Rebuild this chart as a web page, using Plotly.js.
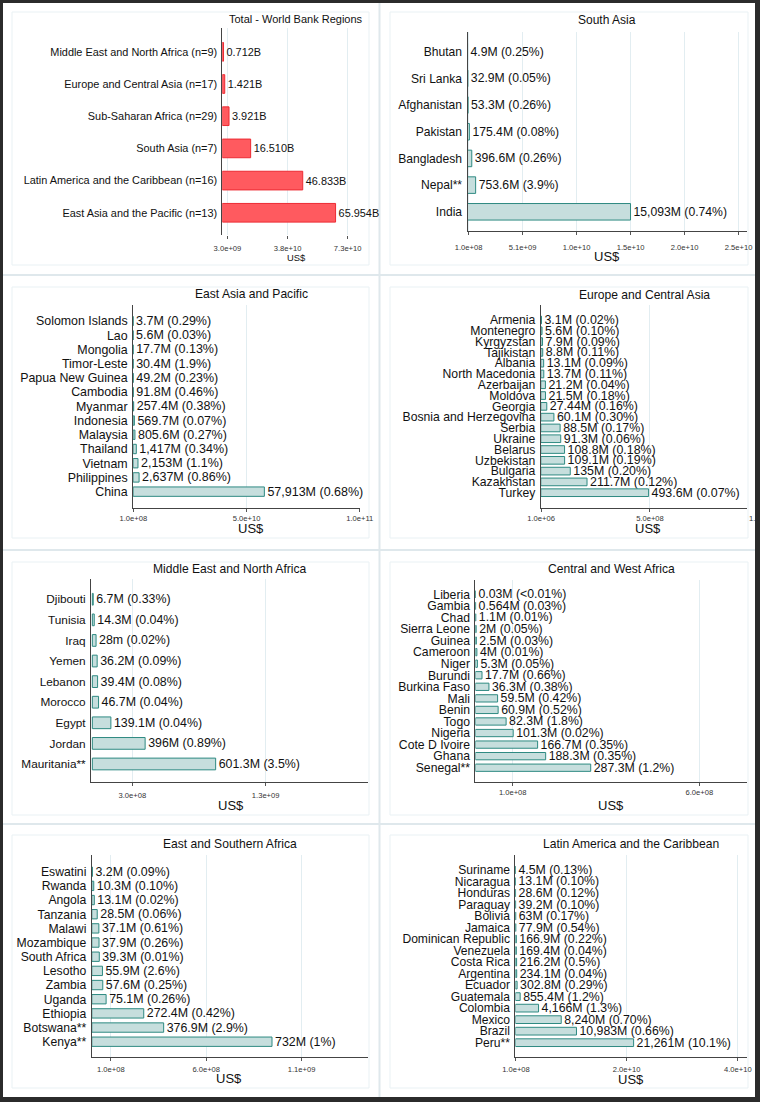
<!DOCTYPE html>
<html><head><meta charset="utf-8">
<script src="https://cdn.plot.ly/plotly-3.0.1.min.js"></script>
<style>
html,body{margin:0;padding:0;background:#fff;}
#wrap{position:relative;width:760px;height:1102px;overflow:hidden;}
#chart{width:760px;height:1102px;}
#frame{position:absolute;left:0;top:0;width:760px;height:1102px;box-sizing:border-box;border-left:3px solid #2b2b2b;border-top:3px solid #2b2b2b;border-right:5px solid #2b2b2b;border-bottom:5px solid #2b2b2b;pointer-events:none;}
</style>
</head><body><div id="wrap"><div id="chart"></div><div id="frame"></div></div>
<script>
// ---------------- DATA ----------------
const totalRegions = ["Middle East and North Africa (n=9)", "Europe and Central Asia (n=17)", "Sub-Saharan Africa (n=29)", "South Asia (n=7)", "Latin America and the Caribbean (n=16)", "East Asia and the Pacific (n=13)"];
const totalValues = [0.712e9, 1.421e9, 3.921e9, 16.510e9, 46.833e9, 65.954e9];
const totalLabels = ["0.712B", "1.421B", "3.921B", "16.510B", "46.833B", "65.954B"];
const totalTickVals = [3e9, 3.8e10, 7.3e10];
const totalTickText = ["3.0e+09", "3.8e+10", "7.3e+10"];

const southAsiaCountries = ["Bhutan", "Sri Lanka", "Afghanistan", "Pakistan", "Bangladesh", "Nepal**", "India"];
const southAsiaValues = [4.9e6, 32.9e6, 53.3e6, 175.4e6, 396.6e6, 753.6e6, 15093e6];
const southAsiaLabels = ["4.9M (0.25%)", "32.9M (0.05%)", "53.3M (0.26%)", "175.4M (0.08%)", "396.6M (0.26%)", "753.6M (3.9%)", "15,093M (0.74%)"];
const southAsiaTickVals = [1e8, 5.1e9, 1.01e10, 1.51e10, 2.01e10, 2.51e10];
const southAsiaTickText = ["1.0e+08", "5.1e+09", "1.0e+10", "1.5e+10", "2.0e+10", "2.5e+10"];

const eastAsiaCountries = ["Solomon Islands", "Lao", "Mongolia", "Timor-Leste", "Papua New Guinea", "Cambodia", "Myanmar", "Indonesia", "Malaysia", "Thailand", "Vietnam", "Philippines", "China"];
const eastAsiaValues = [3.7e6, 5.6e6, 17.7e6, 30.4e6, 49.2e6, 91.8e6, 257.4e6, 569.7e6, 805.6e6, 1417e6, 2153e6, 2637e6, 57913e6];
const eastAsiaLabels = ["3.7M (0.29%)", "5.6M (0.03%)", "17.7M (0.13%)", "30.4M (1.9%)", "49.2M (0.23%)", "91.8M (0.46%)", "257.4M (0.38%)", "569.7M (0.07%)", "805.6M (0.27%)", "1,417M (0.34%)", "2,153M (1.1%)", "2,637M (0.86%)", "57,913M (0.68%)"];
const eastAsiaTickVals = [1e8, 5.005e10, 1e11];
const eastAsiaTickText = ["1.0e+08", "5.0e+10", "1.0e+11"];

const europeCountries = ["Armenia", "Montenegro", "Kyrgyzstan", "Tajikistan", "Albania", "North Macedonia", "Azerbaijan", "Moldova", "Georgia", "Bosnia and Herzegovina", "Serbia", "Ukraine", "Belarus", "Uzbekistan", "Bulgaria", "Kazakhstan", "Turkey"];
const europeValues = [3.1e6, 5.6e6, 7.9e6, 8.8e6, 13.1e6, 13.7e6, 21.2e6, 21.5e6, 27.44e6, 60.1e6, 88.5e6, 91.3e6, 108.8e6, 109.1e6, 135e6, 211.7e6, 493.6e6];
const europeLabels = ["3.1M (0.02%)", "5.6M (0.10%)", "7.9M (0.09%)", "8.8M (0.11%)", "13.1M (0.09%)", "13.7M (0.11%)", "21.2M (0.04%)", "21.5M (0.18%)", "27.44M (0.16%)", "60.1M (0.30%)", "88.5M (0.17%)", "91.3M (0.06%)", "108.8M (0.18%)", "109.1M (0.19%)", "135M (0.20%)", "211.7M (0.12%)", "493.6M (0.07%)"];
const europeTickVals = [1e6, 5e8];
const europeTickText = ["1.0e+06", "5.0e+08"];
const europeCutTick = "1.0e+09";

const menaCountries = ["Djibouti", "Tunisia", "Iraq", "Yemen", "Lebanon", "Morocco", "Egypt", "Jordan", "Mauritania**"];
const menaValues = [6.7e6, 14.3e6, 28e6, 36.2e6, 39.4e6, 46.7e6, 139.1e6, 396e6, 925e6];
const menaLabels = ["6.7M (0.33%)", "14.3M (0.04%)", "28m (0.02%)", "36.2M (0.09%)", "39.4M (0.08%)", "46.7M (0.04%)", "139.1M (0.04%)", "396M (0.89%)", "601.3M (3.5%)"];
const menaTickVals = [3e8, 1.3e9];
const menaTickText = ["3.0e+08", "1.3e+09"];

const cwaCountries = ["Liberia", "Gambia", "Chad", "Sierra Leone", "Guinea", "Cameroon", "Niger", "Burundi", "Burkina Faso", "Mali", "Benin", "Togo", "Nigeria", "Cote D Ivoire", "Ghana", "Senegal**"];
const cwaValues = [0.03e6, 0.564e6, 1.1e6, 2e6, 2.5e6, 4e6, 5.3e6, 17.7e6, 36.3e6, 59.5e6, 60.9e6, 82.3e6, 101.3e6, 166.7e6, 188.3e6, 309e6];
const cwaLabels = ["0.03M (<0.01%)", "0.564M (0.03%)", "1.1M (0.01%)", "2M (0.05%)", "2.5M (0.03%)", "4M (0.01%)", "5.3M (0.05%)", "17.7M (0.66%)", "36.3M (0.38%)", "59.5M (0.42%)", "60.9M (0.52%)", "82.3M (1.8%)", "101.3M (0.02%)", "166.7M (0.35%)", "188.3M (0.35%)", "287.3M (1.2%)"];
const cwaTickVals = [1e8, 6e8];
const cwaTickText = ["1.0e+08", "6.0e+08"];

const esaCountries = ["Eswatini", "Rwanda", "Angola", "Tanzania", "Malawi", "Mozambique", "South Africa", "Lesotho", "Zambia", "Uganda", "Ethiopia", "Botswana**", "Kenya**"];
const esaValues = [3.2e6, 10.3e6, 13.1e6, 28.5e6, 37.1e6, 37.9e6, 39.3e6, 55.9e6, 57.6e6, 75.1e6, 272.4e6, 376.9e6, 945e6];
const esaLabels = ["3.2M (0.09%)", "10.3M (0.10%)", "13.1M (0.02%)", "28.5M (0.06%)", "37.1M (0.61%)", "37.9M (0.26%)", "39.3M (0.01%)", "55.9M (2.6%)", "57.6M (0.25%)", "75.1M (0.26%)", "272.4M (0.42%)", "376.9M (2.9%)", "732M (1%)"];
const esaTickVals = [1e8, 6e8, 1.1e9];
const esaTickText = ["1.0e+08", "6.0e+08", "1.1e+09"];

const lacCountries = ["Suriname", "Nicaragua", "Honduras", "Paraguay", "Bolivia", "Jamaica", "Dominican Republic", "Venezuela", "Costa Rica", "Argentina", "Ecuador", "Guatemala", "Colombia", "Mexico", "Brazil", "Peru**"];
const lacValues = [4.5e6, 13.1e6, 28.6e6, 39.2e6, 63e6, 77.9e6, 166.9e6, 169.4e6, 216.2e6, 234.1e6, 302.8e6, 855.4e6, 4166e6, 8240e6, 10983e6, 21261e6];
const lacLabels = ["4.5M (0.13%)", "13.1M (0.10%)", "28.6M (0.12%)", "39.2M (0.10%)", "63M (0.17%)", "77.9M (0.54%)", "166.9M (0.22%)", "169.4M (0.04%)", "216.2M (0.5%)", "234.1M (0.04%)", "302.8M (0.29%)", "855.4M (1.2%)", "4,166M (1.3%)", "8,240M (0.70%)", "10,983M (0.66%)", "21,261M (10.1%)"];
const lacTickVals = [1e8, 2e10, 4e10];
const lacTickText = ["1.0e+08", "2.0e+10", "4.0e+10"];

const axisTitle = "US$";

// ---------------- LAYOUT CONFIG ----------------
const W = 760, H = 1102;
const FONT = "Liberation Sans, Arial, Helvetica, sans-serif";
const RED = {fill: "#ff5a5f", line: "#ec2b33"};
const TEAL = {fill: "#c6dedd", line: "#2e8a82"};

const panels = [
  {title: "Total - World Bank Regions", cats: totalRegions, vals: totalValues, labels: totalLabels, tv: totalTickVals, tt: totalTickText,
   x0: 222.3, x1: 370, y0: 28, y1: 235, xr: [0, 86e9], padT: 0.74, padB: 0.69, bw: 0.58, col: RED, cfs: 10.9, vfs: 10.9, tfs: 11,
   tx: 296, ty: 19, ux: 296, uy: 257, ufs: 9.4, xline: false, tls: 3},
  {title: "South Asia", cats: southAsiaCountries, vals: southAsiaValues, labels: southAsiaLabels, tv: southAsiaTickVals, tt: southAsiaTickText,
   x0: 467.5, x1: 746.7, y0: 31.7, y1: 231, xr: [0, 25.85e9], padT: 0.75, padB: 0.72, bw: 0.62, col: TEAL, cfs: 12.1, vfs: 12.2, tfs: 12,
   tx: 606.7, ty: 20, ux: 606.7, uy: 256.7, ufs: 13, xline: true, tls: 6},
  {title: "East Asia and Pacific", cats: eastAsiaCountries, vals: eastAsiaValues, labels: eastAsiaLabels, tv: eastAsiaTickVals, tt: eastAsiaTickText,
   x0: 133.1, x1: 360, y0: 305, y1: 507.7, xr: [0, 1.001e11], padT: 1.13, padB: 1.13, bw: 0.66, col: TEAL, cfs: 12.4, vfs: 12.5, tfs: 12.1,
   tx: 251.3, ty: 294.3, ux: 251.3, uy: 528.3, ufs: 13, xline: true, tls: 0.5},
  {title: "Europe and Central Asia", cats: europeCountries, vals: europeValues, labels: europeLabels, tv: europeTickVals, tt: europeTickText,
   x0: 540.8, x1: 746.7, y0: 305, y1: 507.7, xr: [0, 9.43e8], padT: 1.39, padB: 1.39, bw: 0.71, col: TEAL, cfs: 12.2, vfs: 12.4, tfs: 12.1,
   tx: 644.5, ty: 295, ux: 648.3, uy: 528.3, ufs: 13, xline: true, tls: 0.5, cut: {x: 763, text: europeCutTick}},
  {title: "Middle East and North Africa", cats: menaCountries, vals: menaValues, labels: menaLabels, tv: menaTickVals, tt: menaTickText,
   x0: 91, x1: 368.3, y0: 579.3, y1: 782.3, xr: [-1e7, 2.07e9], padT: 0.97, padB: 0.89, bw: 0.57, col: TEAL, cfs: 11.8, vfs: 12.4, tfs: 12.1,
   tx: 230.3, ty: 569.3, ux: 230.7, uy: 805.7, ufs: 13, xline: true, tls: 3},
  {title: "Central and West Africa", cats: cwaCountries, vals: cwaValues, labels: cwaLabels, tv: cwaTickVals, tt: cwaTickText,
   x0: 475.4, x1: 746.7, y0: 580, y1: 781.7, xr: [0, 7.27e8], padT: 1.24, padB: 1.21, bw: 0.63, col: TEAL, cfs: 12.2, vfs: 12.3, tfs: 12.1,
   tx: 611.2, ty: 569.3, ux: 611.2, uy: 805.7, ufs: 13, xline: true, tls: 3.5},
  {title: "East and Southern Africa", cats: esaCountries, vals: esaValues, labels: esaLabels, tv: esaTickVals, tt: esaTickText,
   x0: 91.8, x1: 368.3, y0: 855, y1: 1057.3, xr: [0, 1.45e9], padT: 1.18, padB: 1.1, bw: 0.66, col: TEAL, cfs: 12.2, vfs: 12.4, tfs: 12.1,
   tx: 230.2, ty: 844.3, ux: 229.2, uy: 1078.3, ufs: 13, xline: true, tls: 2},
  {title: "Latin America and the Caribbean", cats: lacCountries, vals: lacValues, labels: lacLabels, tv: lacTickVals, tt: lacTickText,
   x0: 515.4, x1: 746.7, y0: 855, y1: 1057.3, xr: [0, 41.6e9], padT: 1.3, padB: 1.27, bw: 0.67, col: TEAL, cfs: 12.1, vfs: 12.3, tfs: 12.1,
   tx: 630.8, ty: 844.3, ux: 631.3, uy: 1079, ufs: 13, xline: true, tls: 2}
];

const data = [];
const layout = {
  width: W, height: H,
  margin: {l: 0, r: 0, t: 0, b: 0, pad: 0},
  paper_bgcolor: "#ffffff", plot_bgcolor: "#ffffff",
  showlegend: false,
  font: {family: FONT, color: "#111"},
  annotations: [],
  shapes: []
};

panels.forEach((p, i) => {
  const k = i === 0 ? "" : String(i + 1);
  const n = p.cats.length;
  data.push({
    type: "bar", orientation: "h",
    x: p.vals, y: p.cats,
    xaxis: "x" + k, yaxis: "y" + k,
    width: p.bw,
    marker: {color: p.col.fill, line: {color: p.col.line, width: 1}},
    text: p.labels, textposition: "outside", constraintext: "none", cliponaxis: false,
    textfont: {family: FONT, size: p.vfs, color: "#111"},
    hoverinfo: "skip"
  });
  layout["xaxis" + k] = {
    domain: [p.x0 / W, p.x1 / W], anchor: "y" + k,
    range: p.xr, fixedrange: true,
    tickmode: "array", tickvals: p.tv, ticktext: p.tt,
    ticks: "outside", ticklen: 3, tickwidth: 1, tickcolor: "#555",
    tickfont: {family: FONT, size: 7.6, color: "#333"},
    ticklabelstandoff: p.tls,
    showgrid: true, gridcolor: "#e2edf1", gridwidth: 1,
    zeroline: false,
    showline: p.xline, linecolor: "#444", linewidth: 1
  };
  layout["yaxis" + k] = {
    domain: [1 - p.y1 / H, 1 - p.y0 / H], anchor: "x" + k,
    type: "category", categoryorder: "array", categoryarray: p.cats,
    tickmode: "array", tickvals: p.cats,
    range: [n - 1 + p.padB, -p.padT], fixedrange: true,
    ticks: "", showgrid: false, zeroline: false,
    showline: true, linecolor: "#444", linewidth: 1,
    tickfont: {family: FONT, size: p.cfs, color: "#111"},
    ticklabelstandoff: 2
  };
  layout.annotations.push({
    text: p.title, xref: "paper", yref: "paper", x: p.tx / W, y: 1 - p.ty / H,
    xanchor: "center", yanchor: "middle", showarrow: false,
    font: {family: FONT, size: p.tfs, color: "#111"}
  });
  layout.annotations.push({
    text: axisTitle, xref: "paper", yref: "paper", x: p.ux / W, y: 1 - p.uy / H,
    xanchor: "center", yanchor: "middle", showarrow: false,
    font: {family: FONT, size: p.ufs, color: "#111"}
  });
  if (p.cut) {
    layout.annotations.push({
      text: p.cut.text, xref: "paper", yref: "paper", x: p.cut.x / W, y: 1 - 518.3 / H,
      xanchor: "center", yanchor: "middle", showarrow: false,
      font: {family: FONT, size: 7.6, color: "#333"}
    });
  }
});

// cell separators and inner boxes
const sepColor = "#dfe8ec", boxColor = "#e9f1f4";
const px = (x) => x / W, py = (y) => 1 - y / H;
layout.shapes.push({type: "line", xref: "paper", yref: "paper", x0: px(379.5), y0: py(3), x1: px(379.5), y1: py(1097), line: {color: sepColor, width: 2}, layer: "below"});
[275, 550, 824].forEach(y => layout.shapes.push({type: "line", xref: "paper", yref: "paper", x0: px(3), y0: py(y), x1: px(755), y1: py(y), line: {color: sepColor, width: 2}, layer: "below"}));
const rowsY = [[12, 265], [287, 538], [562, 815], [835, 1088]];
const colsX = [[12, 369], [390, 748]];
rowsY.forEach(r => colsX.forEach(c => layout.shapes.push({type: "rect", xref: "paper", yref: "paper", x0: px(c[0]), y0: py(r[1]), x1: px(c[1]), y1: py(r[0]), line: {color: boxColor, width: 1}, layer: "below"})));

Plotly.newPlot("chart", data, layout, {staticPlot: true, displayModeBar: false});
</script>
</body></html>
